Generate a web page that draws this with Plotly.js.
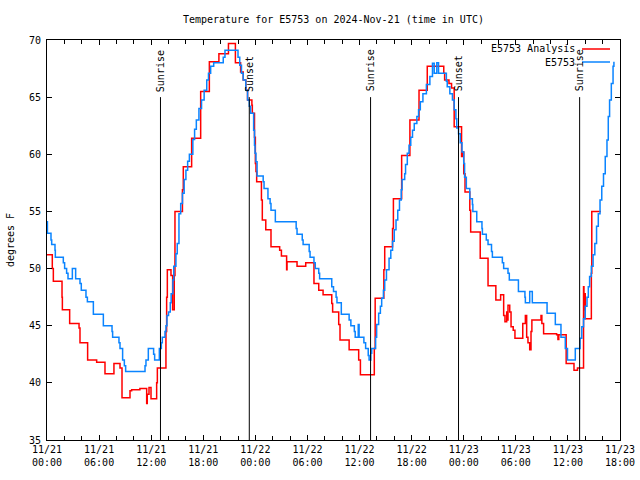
<!DOCTYPE html>
<html>
<head>
<meta charset="utf-8">
<script src="https://cdn.plot.ly/plotly-3.0.1.min.js"></script>
<style>html,body{margin:0;padding:0;background:#fff;}#chart{width:640px;height:480px;}</style>
</head>
<body>
<div id="chart"></div>
<script>
// Hours since 2024-11-21 00:00 UTC and temperatures (deg F)
const analysisHours = [0,0.61,0.73,1.73,1.77,2.61,3.69,3.80,4.68,5.72,6.68,7.71,8.41,8.64,9.56,9.75,10.7,11.48,11.55,11.75,11.98,12.63,12.71,13.7,13.78,13.86,14.28,14.47,14.66,14.74,15.6,15.7,16.66,17.7,18.7,19.8,20.9,21.7,22.3,22.6,22.9,23.1,23.6,23.65,23.9,24.0,24.07,24.15,24.7,24.8,25.2,25.8,26.8,27.0,27.6,27.65,28.8,29.8,30.75,31.3,31.8,32.8,32.9,33.6,33.75,34.8,35.9,36.1,37.7,37.8,38.8,38.9,39.8,39.9,40.85,41.8,42.85,43.8,45.7,45.8,46.3,46.6,46.9,47.75,47.9,48.0,48.15,48.7,48.8,49.9,50.8,51.7,52.25,52.6,52.75,52.95,53.0,53.1,53.3,53.45,53.7,53.9,54.8,55.1,55.25,55.4,55.6,55.75,55.85,56.9,57.0,57.2,58.7,58.85,58.95,59.8,60.7,61.1,61.8,61.85,61.9,62.0,62.7,62.75,63.8];
const analysisTemps = [51.2,50.0,48.9,47.5,46.4,45.2,44.8,43.5,42.0,41.8,40.8,41.7,41.3,38.7,39.3,39.4,39.5,38.2,39.0,39.6,38.6,40.0,41.3,44.5,47.5,49.9,49.4,46.4,49.4,55.0,56.9,58.9,61.4,65.5,68.1,68.8,69.7,68.0,67.2,66.5,65.6,64.75,64.3,63.6,61.5,59.2,58.5,57.6,56.0,54.25,53.4,51.9,51.6,51.1,49.9,50.6,50.2,50.5,48.7,48.1,47.7,46.95,46.2,45.1,43.75,42.9,42.0,40.7,43.0,47.4,49.9,51.9,53.5,56.1,59.9,63.0,65.6,67.7,67.1,66.5,66.2,65.8,62.4,59.8,60.2,58.3,56.7,55.1,53.2,50.9,48.5,47.25,47.7,45.9,45.35,46.2,45.5,46.8,46.2,44.9,44.6,43.9,45.2,45.9,44.0,43.5,42.9,44.5,45.5,45.9,45.2,44.3,44.2,43.8,44.2,41.7,41.1,41.3,48.4,46.4,47.8,45.6,49.6,55.0,55.0];

const stationHours = [0,0.05,0.46,0.54,0.92,0.96,1.88,2.03,2.26,2.42,2.92,3.30,3.80,3.95,4.49,4.65,5.34,6.49,7.49,7.56,8.29,8.41,8.71,8.91,9.06,11.29,11.40,11.67,12.28,12.40,12.94,13.17,13.28,13.59,13.70,13.82,14.0,14.2,14.3,14.5,14.6,14.85,15.0,15.2,15.4,15.6,15.8,16.0,16.2,16.4,16.8,17.0,17.2,17.5,17.8,18.1,18.4,18.6,18.85,19.2,20.3,20.5,22.0,22.2,22.4,22.6,22.9,23.1,23.3,23.45,23.8,23.9,23.96,24.07,24.2,24.9,25.0,25.45,25.7,25.8,26.3,28.7,28.8,29.4,29.5,30.2,30.3,30.75,30.9,31.3,31.4,32.8,33.0,33.3,33.4,33.9,34.8,35.0,35.4,35.5,35.85,35.95,36.5,36.7,37.0,37.1,37.3,37.4,37.85,37.97,38.2,38.4,38.55,38.75,38.9,39.1,39.4,39.6,39.8,40.0,40.2,40.4,40.6,40.8,40.9,41.2,41.3,41.5,41.7,41.9,42.1,42.3,42.6,42.8,43.0,43.3,43.7,44.1,44.4,44.6,44.9,45.1,46.0,46.1,46.4,46.7,46.9,47.1,47.2,47.4,47.6,47.8,48.0,48.1,48.3,48.7,49.0,49.05,49.5,50.1,50.15,50.6,50.8,51.2,51.3,52.45,52.6,53.1,53.25,54.3,55.05,55.1,55.6,55.9,57.6,58.55,59.2,59.7,59.95,60.85,61.4,61.6,61.8,62.0,62.2,62.35,62.5,62.7,62.9,63.1,63.3,63.5,63.7,63.9,64.1,64.3,64.5,64.65,64.8,65.0,65.2,65.3];
const stationTemps = [54.1,53.1,52.5,52.1,51.6,51.0,50.5,50.0,49.6,49.1,50.0,49.1,48.7,48.1,47.5,47.1,46.0,45.0,44.5,44.0,43.5,43.0,42.0,41.5,41.0,41.5,42.0,43.0,42.5,42.0,43.0,43.5,44.0,44.5,45.0,45.9,46.2,47.0,47.8,49.0,50.2,51.3,52.2,54.8,55.7,56.6,57.8,58.6,59.4,60.0,61.3,62.2,63.0,64.0,64.75,65.6,66.5,67.1,67.7,68.0,68.5,69.1,68.5,67.8,67.1,66.5,65.6,64.75,64.2,63.6,62.1,60.8,60.1,59.35,58.1,57.6,57.0,56.1,55.7,55.1,54.1,53.5,53.0,52.5,52.1,51.5,51.0,50.5,50.0,49.6,49.1,48.4,48.0,47.5,47.0,46.0,45.5,45.0,44.5,44.0,45.1,44.0,43.5,43.0,42.4,42.0,42.6,43.0,44.0,45.1,46.1,46.7,47.4,48.1,49.0,49.9,50.9,51.6,52.4,53.4,54.25,55.1,56.0,56.9,57.8,58.3,59.1,60.1,60.8,61.5,62.1,62.7,63.3,63.9,64.6,65.3,66.1,66.8,67.96,67.1,68.0,67.1,66.4,65.9,65.3,64.75,63.9,63.1,62.3,61.8,61.0,60.2,59.2,58.0,57.0,56.1,55.6,55.0,54.1,53.5,53.0,52.5,52.1,51.5,51.0,50.5,50.0,49.6,49.0,48.0,47.5,47.0,48.0,47.0,46.1,45.1,44.0,43.0,42.0,43.0,43.9,44.9,45.6,46.7,47.5,48.4,49.3,50.2,51.2,52.2,53.7,54.8,56.0,57.2,58.3,59.8,61.25,63.3,64.75,66.2,67.7,68.1];

const sunLabels = ["Sunrise","Sunset","Sunrise","Sunset","Sunrise"];
const sunHours = [13.07,23.30,37.27,47.40,61.35];

const seriesNames = ["E5753 Analysis","E5753"];
const seriesColors = ["#ff0000","#0a84ff"];

const T0 = Date.UTC(2024,10,21,0,0,0);
function toTime(h){
  const d = new Date(T0 + Math.round(h*3600000));
  const p = n => String(n).padStart(2,'0');
  return d.getUTCFullYear()+'-'+p(d.getUTCMonth()+1)+'-'+p(d.getUTCDate())+' '+p(d.getUTCHours())+':'+p(d.getUTCMinutes())+':'+p(d.getUTCSeconds());
}

const FONT = "DejaVu Sans Mono, monospace";
const FS = 10;

const traces = [
  {x: analysisHours.map(toTime), y: analysisTemps, name: seriesNames[0], type:'scatter', mode:'lines',
   line:{color:seriesColors[0], width:1.5, shape:'hv'}},
  {x: stationHours.map(toTime), y: stationTemps, name: seriesNames[1], type:'scatter', mode:'lines',
   line:{color:seriesColors[1], width:1.5, shape:'hv'}}
];

const shapes = [];
const annotations = [];
sunHours.forEach((h,i)=>{
  shapes.push({type:'line', xref:'x', yref:'y', x0:toTime(h), x1:toTime(h), y0:35, y1:65, line:{color:'#000', width:1}});
  annotations.push({xref:'x', yref:'y', x:toTime(h), y:65.3, text:sunLabels[i], textangle:-90,
    showarrow:false, xanchor:'center', yanchor:'bottom', font:{family:FONT, size:FS, color:'#000'}});
});

// legend (gnuplot style: text then sample line to the right)
const L = 47, R = 620, TOP = 40, BOT = 440;
const px = x => (x - L)/(R - L);
const py = y => (BOT - y)/(BOT - TOP);
const legendY = [49, 62];
seriesNames.forEach((n,i)=>{
  annotations.push({xref:'paper', yref:'paper', x:px(577), y:py(legendY[i]), text:n, showarrow:false,
    xanchor:'right', yanchor:'middle', font:{family:FONT, size:FS, color:'#000'}});
  shapes.push({type:'line', xref:'paper', yref:'paper', x0:px(582), x1:px(610), y0:py(legendY[i]), y1:py(legendY[i]),
    line:{color:seriesColors[i], width:1.5}});
});

const layout = {
  width:640, height:480,
  margin:{l:47, r:20, t:40, b:40},
  paper_bgcolor:'#fff', plot_bgcolor:'#fff',
  showlegend:false,
  font:{family:FONT, size:FS, color:'#000'},
  title:{text:'Temperature for E5753 on 2024-Nov-21 (time in UTC)', font:{family:FONT, size:FS, color:'#000'},
    x:0.521, xanchor:'center', y:1-19/480, yanchor:'middle', yref:'container'},
  xaxis:{type:'date', range:[toTime(0), toTime(66)], tick0:toTime(0), dtick:6*3600000,
    tickformat:'%m/%d<br>%H:%M', ticks:'inside', ticklen:5, tickcolor:'#000',
    showline:true, linecolor:'#000', linewidth:1, mirror:'allticks', showgrid:false, zeroline:false,
    minor:{dtick:2*3600000, ticks:'inside', ticklen:4, tickcolor:'#000', showgrid:false},
    tickfont:{family:FONT, size:FS, color:'#000'}},
  yaxis:{range:[35,70], dtick:5, ticks:'inside', ticklen:5, tickcolor:'#000',
    showline:true, linecolor:'#000', linewidth:1, mirror:'allticks', showgrid:false, zeroline:false,
    ticklabelstandoff:3,
    tickfont:{family:FONT, size:FS, color:'#000'},
    title:{text:'degrees F', font:{family:FONT, size:FS, color:'#000'}, standoff:12}},
  shapes:shapes, annotations:annotations
};

Plotly.newPlot('chart', traces, layout, {staticPlot:true, displayModeBar:false});
</script>
</body>
</html>
